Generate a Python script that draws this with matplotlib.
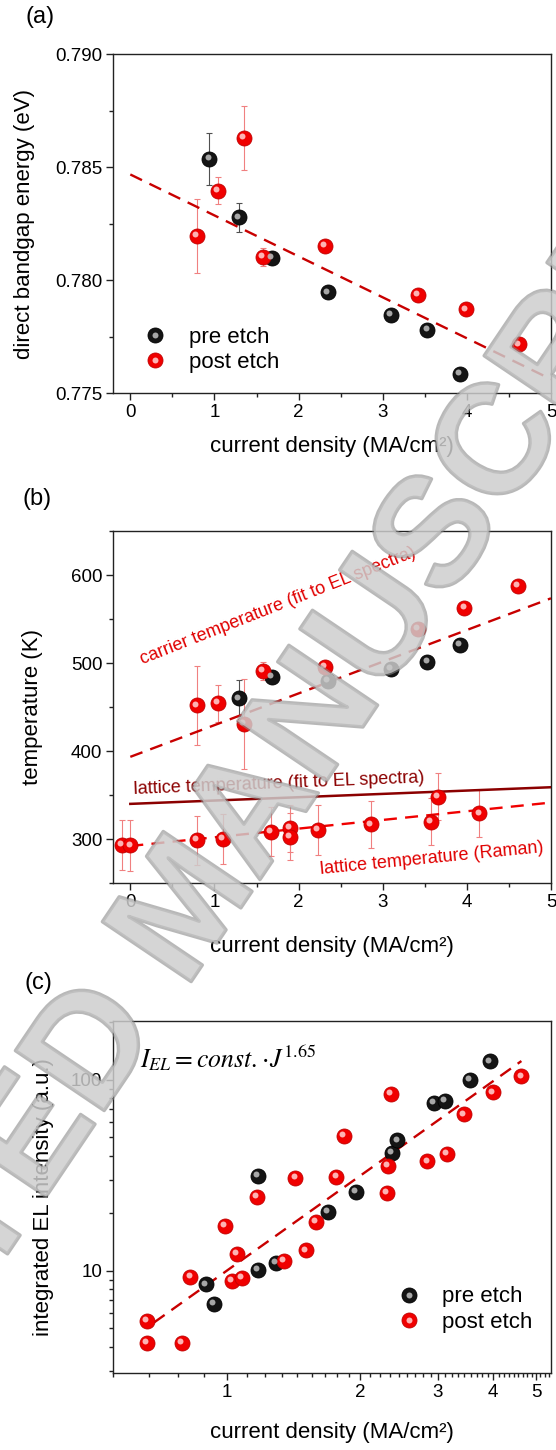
import matplotlib
matplotlib.use('Agg')
import numpy as np
import matplotlib.pyplot as plt
import matplotlib.patheffects as pe
from matplotlib.lines import Line2D
from matplotlib.legend_handler import HandlerTuple
from matplotlib.transforms import offset_copy
from matplotlib.ticker import MultipleLocator, FixedLocator, NullFormatter, LogLocator, FormatStrFormatter

plt.rcParams['font.family'] = ['Liberation Sans', 'DejaVu Sans']
plt.rcParams['mathtext.fontset'] = 'stix'

# ---- (a) direct bandgap energy ----
a_pre_j = [0.94, 1.29, 1.68, 2.35, 3.10, 3.53, 3.92]
a_pre_e = [0.78537, 0.78278, 0.78100, 0.77946, 0.77846, 0.77779, 0.77584]
a_pre_err = [0.00116, 0.00064, 0.00025, 0, 0, 0, 0]
a_post_j = [0.79, 1.04, 1.35, 1.58, 2.31, 3.42, 3.99, 4.62]
a_post_e = [0.78196, 0.78397, 0.78629, 0.78103, 0.78151, 0.77934, 0.77871, 0.77716]
a_post_err = [0.00163, 0.00061, 0.00141, 0.00041, 0, 0, 0, 0]
a_fit = (0.78468, -0.001812)  # intercept, slope

# ---- (b) temperatures ----
b_pre_j = [1.29, 1.68, 2.35, 3.10, 3.53, 3.92]
b_pre_t = [460, 484.5, 479.5, 493.5, 501, 521]
b_pre_err = [20.5, 7, 0, 0, 0, 0]
b_post_j = [0.79, 1.04, 1.35, 1.58, 2.31, 3.42, 3.97, 4.61]
b_post_t = [452, 454.5, 431, 491, 496, 538.5, 563, 587.5]
b_post_err = [44.7, 21, 51, 10, 0, 0, 0, 0]
raman_j = [-0.10, 0.0, 0.79, 1.10, 1.67, 1.90, 1.90, 2.23, 2.86, 3.57, 3.66, 4.15]
raman_t = [293.5, 293, 299, 300.5, 308.5, 312.5, 303, 310.5, 317, 320, 348.5, 329.5]
raman_err = [28, 29, 28, 28, 28, 27, 27, 28, 27, 27, 27, 26.5]
carrier_fit = (393.6, 36.0)
lattice_el_fit = (340.2, 3.78)
raman_fit = (292.4, 9.86)

# ---- (c) integrated EL intensity ----
c_pre_j = [0.90, 0.938, 1.175, 1.175, 1.29, 1.69, 1.96, 2.36, 2.43, 2.94, 3.11, 3.54, 3.93]
c_pre_i = [8.5, 6.7, 10.1, 31.3, 11.0, 20.3, 25.9, 41.6, 48.2, 76, 77.8, 100, 124.7]
c_post_j = [0.662, 0.662, 0.794, 0.829, 0.99, 1.03, 1.057, 1.084, 1.17, 1.35, 1.43, 1.51,
            1.59, 1.77, 1.84, 2.30, 2.31, 2.35, 2.84, 3.15, 3.43, 4.0, 4.63]
c_post_i = [5.47, 4.18, 4.18, 9.27, 17.2, 8.9, 12.3, 9.18, 24.5, 11.3, 30.8, 12.8,
            18.1, 31.0, 50.8, 25.7, 35.3, 84, 37.4, 41.1, 65.9, 86, 104.3]
power_fit = (10.0, 1.65, 0.686, 4.63)  # const, exponent, j range

RED = '#f00000'
FIT = '#c80000'
DARKRED = '#8b0000'
BALL = {'pre': ('#141414', '#000000', '#b8b8b8'),
        'post': (RED, '#c00000', '#ffc8c8')}

fig = plt.figure(figsize=(5.56, 14.5), dpi=100)


def balls(ax, x, y, kind, z=4):
    face, edge, hi = BALL[kind]
    ax.plot(x, y, ls='none', marker='o', ms=10.8, mfc=face, mec=edge, mew=0.6, zorder=z)
    tr = offset_copy(ax.transData, fig=fig, x=-1.3, y=1.3, units='points')
    ax.plot(x, y, ls='none', marker='o', ms=4.3, mfc=hi, mec='none', alpha=0.9,
            transform=tr, zorder=z + 0.1)


def errs(ax, x, y, e, color):
    x, y, e = np.array(x), np.array(y), np.array(e)
    m = e > 0
    ax.errorbar(x[m], y[m], yerr=e[m], fmt='none', ecolor=color, elinewidth=0.8,
                capsize=2.5, capthick=0.8, zorder=2)


def style(ax):
    for s in ax.spines.values():
        s.set_linewidth(1.0)
        s.set_color('#222222')
    ax.tick_params(which='both', direction='out', top=False, right=False,
                   labelsize=13.5, pad=3, color='#222222')
    ax.tick_params(which='major', length=5, width=1)
    ax.tick_params(which='minor', length=3, width=1)


def legend(ax, anchor):
    hs = []
    for k in ['pre', 'post']:
        face, edge, hi = BALL[k]
        hs.append((Line2D([], [], ls='none', marker='o', ms=10.8, mfc=face, mec=edge, mew=0.6),
                   Line2D([], [], ls='none', marker='o', ms=4.3, mfc=hi, mec='none', alpha=0.9)))
    ax.legend(hs, ['pre etch', 'post etch'], handler_map={tuple: HandlerTuple(ndivide=1, pad=0)},
              loc='center left', bbox_to_anchor=anchor, borderaxespad=0, borderpad=0.4,
              frameon=False, fontsize=16, handlelength=0.8, handletextpad=1.1,
              labelspacing=0.2)


L, W = 0.2041, 0.7869
xlab = 'current density (MA/cm\u00b2)'

# ---------- (a) ----------
ax1 = fig.add_axes([L, 0.7288, W, 0.2338])
style(ax1)
jj = np.array([0, 5])
ax1.plot(jj, a_fit[0] + a_fit[1] * jj, ls=(0, (5.5, 3.5)), color=FIT, lw=1.7, zorder=3)
errs(ax1, a_pre_j, a_pre_e, a_pre_err, '#505050')
errs(ax1, a_post_j, a_post_e, a_post_err, '#f08080')
balls(ax1, a_pre_j, a_pre_e, 'pre')
balls(ax1, a_post_j, a_post_e, 'post')
ax1.set_xlim(-0.2, 5)
ax1.set_ylim(0.775, 0.790)
ax1.xaxis.set_major_locator(MultipleLocator(1))
ax1.xaxis.set_minor_locator(MultipleLocator(0.5))
ax1.yaxis.set_major_locator(MultipleLocator(0.005))
ax1.yaxis.set_minor_locator(MultipleLocator(0.0025))
ax1.yaxis.set_major_formatter(FormatStrFormatter('%.3f'))
ax1.set_xlabel(xlab, fontsize=16, va='center')
ax1.xaxis.set_label_coords(0.5, -0.1575)
ax1.set_ylabel('direct bandgap energy (eV)', fontsize=16, va='center')
ax1.yaxis.set_label_coords(-0.203, 0.5)
legend(ax1, (0.055, 0.128))

# ---------- (b) ----------
ax2 = fig.add_axes([L, 0.3908, W, 0.2430])
style(ax2)
ax2.plot(jj, carrier_fit[0] + carrier_fit[1] * jj, ls=(0, (5.5, 3.5)), color=FIT, lw=1.7, zorder=3)
ax2.plot(jj, lattice_el_fit[0] + lattice_el_fit[1] * jj, ls='-', color=DARKRED, lw=1.8, zorder=3)
ax2.plot(jj, raman_fit[0] + raman_fit[1] * jj, ls=(0, (5.5, 3.5)), color=RED, lw=1.7, zorder=3)
errs(ax2, b_pre_j, b_pre_t, b_pre_err, '#505050')
errs(ax2, b_post_j, b_post_t, b_post_err, '#f08080')
errs(ax2, raman_j, raman_t, raman_err, '#f08080')
balls(ax2, raman_j, raman_t, 'post')
balls(ax2, b_pre_j, b_pre_t, 'pre')
balls(ax2, b_post_j, b_post_t, 'post')
ax2.text(0.148, 498.5, 'carrier temperature (fit to EL spectra)', color='#e00000', fontsize=13,
         rotation=21.5, rotation_mode='anchor', ha='left', va='baseline')
ax2.text(0.04, 351.5, 'lattice temperature (fit to EL spectra)', color=DARKRED, fontsize=13,
         rotation=2.3, rotation_mode='anchor', ha='left', va='baseline')
ax2.text(2.26, 260.6, 'lattice temperature (Raman)', color='#e00000', fontsize=13,
         rotation=5.6, rotation_mode='anchor', ha='left', va='baseline')
ax2.set_xlim(-0.2, 5)
ax2.set_ylim(250, 650)
ax2.xaxis.set_major_locator(MultipleLocator(1))
ax2.xaxis.set_minor_locator(MultipleLocator(0.5))
ax2.yaxis.set_major_locator(MultipleLocator(100))
ax2.yaxis.set_minor_locator(MultipleLocator(50))
ax2.set_xlabel(xlab, fontsize=16, va='center')
ax2.xaxis.set_label_coords(0.5, -0.18)
ax2.set_ylabel('temperature (K)', fontsize=16, va='center')
ax2.yaxis.set_label_coords(-0.186, 0.5)

# ---------- (c) ----------
ax3 = fig.add_axes([L, 0.0533, W, 0.2428])
style(ax3)
ax3.set_xscale('log')
ax3.set_yscale('log')
jf = np.array([power_fit[2], power_fit[3]])
ax3.plot(jf, power_fit[0] * jf ** power_fit[1], ls=(0, (5.5, 3.5)), color=FIT, lw=1.7, zorder=3)
balls(ax3, c_pre_j, c_pre_i, 'pre')
balls(ax3, c_post_j, c_post_i, 'post')
ax3.set_xlim(5 / 9, 5.4)
ax3.set_ylim(2.93, 204)
ax3.xaxis.set_major_locator(FixedLocator([1, 2, 3, 4, 5]))
ax3.xaxis.set_major_formatter(FormatStrFormatter('%d'))
minor_x = [k / 9 for k in range(5, 9)] + [n + k / 9 for n in range(1, 6) for k in range(1, 9)]
ax3.xaxis.set_minor_locator(FixedLocator(minor_x))
ax3.xaxis.set_minor_formatter(NullFormatter())
ax3.yaxis.set_major_locator(FixedLocator([10, 100]))
ax3.yaxis.set_major_formatter(FormatStrFormatter('%d'))
ax3.yaxis.set_minor_locator(LogLocator(base=10, subs=np.arange(2, 10)))
ax3.yaxis.set_minor_formatter(NullFormatter())
ax3.text(0.061, 0.866, r'$I_{EL}=const.\!\cdot\! J^{1.65}$', transform=ax3.transAxes,
         fontsize=18.5, ha='left', va='baseline')
ax3.set_xlabel(xlab, fontsize=16, va='center')
ax3.xaxis.set_label_coords(0.5, -0.171)
ax3.set_ylabel('integrated EL intensity (a.u.)', fontsize=16, va='center')
ax3.yaxis.set_label_coords(-0.159, 0.5)
legend(ax3, (0.635, 0.1795))

# panel letters
fig.text(40 / 556, 1 - 17.5 / 1450, '(a)', fontsize=17, ha='center', va='center')
fig.text(37 / 556, 1 - 499 / 1450, '(b)', fontsize=17, ha='center', va='center')
fig.text(38 / 556, 1 - 983 / 1450, '(c)', fontsize=17, ha='center', va='center')

# watermark
fig.text(0.342, 0.372, 'ACCEPTED MANUSCRIPT', rotation=56, rotation_mode='anchor',
         ha='center', va='center', fontsize=112, fontweight='bold', color='#cdcdcd',
         alpha=0.6, zorder=20,
         path_effects=[pe.withStroke(linewidth=2.5, foreground='#8a8a8a')])

fig.savefig('out.png', dpi=100)
